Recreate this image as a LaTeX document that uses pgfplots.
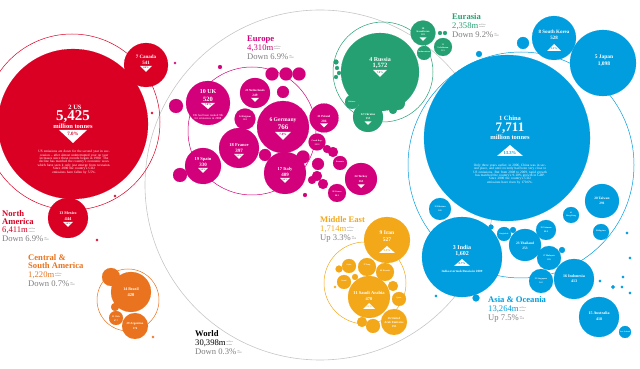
\documentclass[border=0pt]{standalone}
\usepackage{pgfplots}
\pgfplotsset{compat=1.18}
\usepackage{pgfplotstable}
\usepackage{fontspec}
\setmainfont{Liberation Serif}
\definecolor{cRed}{RGB}{218,0,36}
\definecolor{cMag}{RGB}{210,0,122}
\definecolor{cGrn}{RGB}{36,160,114}
\definecolor{cBlu}{RGB}{0,157,223}
\definecolor{cYel}{RGB}{243,168,26}
\definecolor{cOra}{RGB}{233,115,30}
\definecolor{cGry}{RGB}{125,125,125}
\newcommand\fs[1]{\fontsize{#1}{#1}\selectfont}
% down triangle: x, y(top), w, h, text, colour, fontsize
\newcommand\tdn[7]{%
  \fill[white] (axis cs:#1,#2) +(-0.5*#3pt,0pt) -- +(0.5*#3pt,0pt) -- +(0pt,-#4pt) -- cycle;
  \node[inner sep=0pt, text=#6, font=\bfseries\fs{#7}] at ([yshift=-0.3*#4pt]axis cs:#1,#2) {#5};}
% up triangle: x, y(base), w, h, text, colour, fontsize
\newcommand\tup[7]{%
  \fill[white] (axis cs:#1,#2) +(-0.5*#3pt,0pt) -- +(0.5*#3pt,0pt) -- +(0pt,#4pt) -- cycle;
  \node[inner sep=0pt, text=#6, font=\bfseries\fs{#7}] at ([yshift=0.3*#4pt]axis cs:#1,#2) {#5};}
\newcommand\cl[4]{\node[inner sep=0pt, text=white, font=\bfseries\fs{#3}, align=center] at (axis cs:#1,#2) {#4};}
% region label: x, ybase of last name line, colour, name lines, ybase value, value, change
\newcommand\reg[7]{%
  \node[anchor=base west, inner sep=0pt, text=#3, font=\bfseries\fs{8.6}, align=left] at (axis cs:#1,#2) {#4};
  \node[anchor=base west, inner sep=0pt, text=#3, font=\fs{8.6}] (v) at (axis cs:#1,#5) {#6};
  \node[anchor=base west, inner sep=0pt, text=cGry, font=\fs{8.6}] (p) at (axis cs:#1,{#5+8.6}) {#7};
  \node[anchor=south west, inner sep=0.6pt, text=cGry, font=\fs{2.2}, align=left] at (v.base east) {million\\tonnes};
  \node[anchor=south west, inner sep=0.6pt, text=cGry, font=\fs{2.2}, align=left] at (p.base east) {on\\2008};}
\pgfplotsset{bub/.style={scatter, only marks, mark=*, line width=0.1pt,
  scatter/use mapped color={draw=#1, fill=#1},
  visualization depends on={\thisrow{r}\as\rad},
  scatter/@pre marker code/.append style={/tikz/mark size=\rad}}}

\pgfplotstableread{
x y r
73 124 75
146 65 22
68 218 20
152 113 1.2
115 196 1.2
97 240 1.2
}\na
\pgfplotstableread{
x y r
283 127 26
208 103 22
285 173 21
239 148 20
203 166 18
324 118 14.5
255 93 15
361 179 16
245 119 10.5
317 142 8.5
337 193 9
340 163 7
303 157 6.5
318 164 6
317 176 5
323 184 5
312 180 4
327 149 4
333 152 5
272 74 6.5
286 74 6.5
299 74 6.5
283 92 6
176 106 7
180 175 7
265 155 6
175 63 1.2
220 67 2
305 195 2
205 183 1.2
}\eu
\pgfplotstableread{
x y r
380 72 39
368 117 15
423 33 12.5
443 47 9
424 53 7
352 102 7
398 103 7
393 110 4
440 33 2
445 33 2
336 62 2.5
337 68 2
339 73 2
336 77 2
}\ea
\pgfplotstableread{
x y r
507 138 83
603 63 33
554 38 22
462 257 40
440 209 11
602 201 17
525 245 16
574 279 20
599 317 20
549 258 12
541 281 12
546 230 10
571 215 8
601 232 8
504 234 7
523 43 6
625 332 6
479 54 3
476 298 3.5
562 250 3
513 230 3
491 227 2.5
436 296 1.3
627 233 1.3
630 258 1.3
623 277 1.3
622 287 1.3
613 287 1.8
630 293 1.3
600 281 1.3
}\as
\pgfplotstableread{
x y r
387 240 23
369 297 21
394 322 13
367 267 9
385 272 9
349 266 7
344 282 7
399 299 7
393 286 5
373 326 7
362 322 5
339 269 3.5
355 277 3
335 287 1.2
}\me
\pgfplotstableread{
x y r
131 292 20
111 277 9
135 326 13
116 318 7
115 307 4
153 337 1.2
}\sa

\begin{document}
\begin{tikzpicture}
\begin{axis}[width=640pt, height=369pt, scale only axis, axis lines=none,
  xmin=0, xmax=640, ymin=0, ymax=369, y dir=reverse, clip=true, set layers=standard]
% outlines
\addplot[only marks, mark=o, mark size=175pt, gray!45, line width=0.6pt] coordinates {(320,185)};
\addplot[only marks, mark=o, mark size=88pt, cRed, line width=0.5pt] coordinates {(72,122)};
\addplot[only marks, mark=o, mark size=64pt, cMag, line width=0.5pt] coordinates {(252,131)};
\addplot[only marks, mark=o, mark size=50pt, cGrn, line width=0.5pt] coordinates {(383,72)};
\addplot[only marks, mark=o, mark size=113pt, cBlu, line width=0.5pt] coordinates {(521,165)};
\addplot[only marks, mark=o, mark size=41pt, cYel, line width=0.5pt] coordinates {(365,283)};
\addplot[only marks, mark=o, mark size=31pt, cOra, line width=0.5pt] coordinates {(128,300)};
% bubbles
\addplot[bub=cRed] table {\na};
\addplot[bub=cMag] table {\eu};
\addplot[bub=cGrn] table {\ea};
\addplot[bub=cBlu] table {\as};
\addplot[bub=cYel] table {\me};
\addplot[bub=cOra] table {\sa};

\begin{pgfonlayer}{axis foreground}
% ---- North America labels
\cl{75}{107}{6.5}{2 US}
\cl{73}{117}{15}{5,425}
\cl{73}{126}{6.5}{million tonnes}
\tdn{73}{130}{28}{13}{7.0\%}{cRed}{5}
\node[inner sep=0pt, text=white, font=\fs{3.4}, align=center, text width=84pt] at (axis cs:74,162) {US emissions are down for the second year in succession -- after almost uninterrupted year on year increases since these records began in 1980. The decline has matched the country's economic woes which have seen it only just emerge from recession.\\Since 2000 the country's CO2 emissions have fallen by 5.5\%.};
\cl{146}{57}{5}{7 Canada}
\cl{146}{63}{5}{541}
\tdn{146}{66}{12}{6}{8.8\%}{cRed}{2.4}
\cl{68}{213}{4}{13 Mexico}
\cl{68}{219}{4.5}{444}
\tdn{68}{222}{10}{5}{2.9\%}{cRed}{2.2}
% ---- Central & South America
\cl{131}{289}{4}{14 Brazil}
\cl{131}{295}{4.5}{420}
\cl{135}{324}{3}{29 Argentina}
\cl{135}{329}{3}{174}
\cl{116}{317}{2.2}{33 Chile}
\cl{116}{320.5}{2.2}{67.7}
% ---- Europe
\cl{283}{120}{5.6}{6 Germany}
\cl{283}{127.5}{7}{766}
\tdn{283}{132}{16}{8}{7.0\%}{cMag}{3.2}
\cl{208}{92}{6}{10 UK}
\cl{208}{99}{6.5}{520}
\tdn{208}{103}{14}{6}{7.8\%}{cMag}{2.8}
\node[inner sep=0pt, text=white, font=\fs{3}, align=center, text width=36pt] at (axis cs:208,117) {UK had been ranked 9th for emissions in 2008};
\cl{239}{145}{4.5}{18 France}
\cl{239}{151}{5}{397}
\tdn{239}{154}{10}{5}{5.3\%}{cMag}{2.2}
\cl{203}{159}{4.5}{19 Spain}
\cl{203}{165}{5}{330}
\tdn{203}{168}{10}{5}{9.9\%}{cMag}{2.2}
\cl{285}{169}{4.5}{17 Italy}
\cl{285}{175}{5}{409}
\tdn{285}{178}{10}{5}{9.6\%}{cMag}{2.2}
\cl{324}{116}{3}{21 Poland}
\cl{324}{121}{3.4}{286}
\tdn{324}{123.5}{8}{4}{}{cMag}{2}
\cl{255}{90}{3}{25 Netherlands}
\cl{255}{95.5}{3.4}{249}
\tdn{255}{98}{8}{4}{}{cMag}{2}
\cl{361}{177}{3}{24 Turkey}
\cl{361}{182}{3}{263}
\tdn{361}{184.5}{7}{3.5}{}{cMag}{2}
\cl{245}{116.5}{2.4}{34 Belgium}
\cl{245}{120}{2.4}{112}
\cl{317}{141}{2.2}{Czech Rep.}
\cl{317}{144.5}{2.2}{112.3}
\cl{337}{192}{2.2}{38 Greece}
\cl{337}{195.5}{2.2}{98.3}
\cl{340}{162}{2}{Romania}
% ---- Eurasia
\cl{380}{59}{6}{4 Russia}
\cl{380}{66}{6.5}{1,572}
\tdn{380}{70}{14}{7}{7.8\%}{cGrn}{2.8}
\cl{368}{114}{3}{22 Ukraine}
\cl{368}{119}{3}{255}
\tdn{368}{121.5}{7}{3.5}{}{cGrn}{2}
\cl{423}{28.5}{2.5}{28}
\cl{423}{31.5}{2.5}{Kazakhstan}
\cl{423}{35}{2.5}{181}
\tdn{423}{37.5}{7}{3.5}{}{cGrn}{2}
\cl{443}{45}{2.2}{31}
\cl{443}{48}{2.2}{Uzbekistan}
\cl{443}{51}{2.2}{121}
\cl{424}{52}{2}{Turkmenistan}
\cl{352}{102}{2}{Belarus}
% ---- Asia
\cl{510}{118}{6.5}{1 China}
\cl{510}{128}{13}{7,711}
\cl{510}{137}{6.5}{million tonnes}
\tup{510}{156}{26}{11}{13.3\%}{cBlu}{4.6}
\node[inner sep=0pt, text=white, font=\fs{3.4}, align=center, text width=86pt] at (axis cs:510,174) {Only three years earlier, in 2006, China was in second place, and until recently had been very close to US emissions. But from 2008 to 2009, rapid growth has matched the country's 9-10\% growth in GDP.\\Since 2000 the country's CO2 emissions have risen by 170.6\%.};
\cl{604}{57}{5.5}{5 Japan}
\cl{604}{64}{5.5}{1,098}
\cl{554}{32}{5}{8 South Korea}
\cl{554}{38}{5}{528}
\tup{554}{51}{14}{7}{3.2\%}{cBlu}{2.8}
\cl{462}{247}{6}{3 India}
\cl{462}{254}{6}{1,602}
\tup{462}{266}{16}{7}{8.7\%}{cBlu}{3}
\cl{462}{271}{3.2}{India overtook Russia in 2009}
\cl{602}{198}{3.5}{20 Taiwan}
\cl{602}{203}{3.5}{291}
\cl{525}{243}{3.5}{23 Thailand}
\cl{525}{248}{3.5}{253}
\cl{574}{276}{4}{16 Indonesia}
\cl{574}{281}{4}{413}
\cl{599}{313}{4}{15 Australia}
\cl{599}{319}{4}{418}
\cl{549}{256}{2.2}{27 Malaysia}
\cl{549}{259.5}{2.2}{199}
\cl{541}{279}{2.2}{35 Singapore}
\cl{541}{282.5}{2.2}{142}
\cl{546}{228}{2.2}{39 Vietnam}
\cl{546}{231.5}{2.2}{99.8}
\cl{440}{207}{2.2}{32 Pakistan}
\cl{440}{210.5}{2.2}{146}
\cl{571}{213}{2}{41}
\cl{571}{216}{2}{Hong Kong}
\cl{601}{231}{2}{Philippines}
\cl{625}{332}{1.8}{New Zealand}
\cl{504}{234}{1.8}{Bangladesh}
% ---- Middle East
\cl{387}{233}{5.5}{9 Iran}
\cl{387}{240}{5.5}{527}
\tup{387}{253}{16}{7}{3.2\%}{cYel}{3}
\cl{369}{293}{4.5}{11 Saudi Arabia}
\cl{369}{299}{4.5}{470}
\tup{369}{309}{12}{6}{3.2\%}{cYel}{2.4}
\cl{394}{318}{3}{26 United}
\cl{394}{322}{3}{Arab Emirates}
\cl{394}{326.5}{3}{193}
\cl{367}{265}{2.2}{37 Iraq}
\cl{385}{271}{2.2}{40 Kuwait}
\cl{349}{265}{2}{Syria}
\cl{344}{281}{2}{Israel}
\cl{399}{298}{2}{Qatar}
% ---- region labels
\reg{2}{225}{cRed}{North\\America}{233}{6,411m}{Down 6.9\%}
\reg{28}{269}{cOra}{Central \&\\South America}{277.5}{1,220m}{Down 0.7\%}
\reg{247}{42}{cMag}{Europe}{50.5}{4,310m}{Down 6.9\%}
\reg{452}{20}{cGrn}{Eurasia}{28.5}{2,358m}{Down 9.2\%}
\reg{320}{223}{cYel}{Middle East}{232}{1,714m}{Up 3.3\%}
\reg{488}{303}{cBlu}{Asia \& Oceania}{312}{13,264m}{Up 7.5\%}
\reg{195}{337}{black}{World}{346}{30,398m}{Down 0.3\%}
\end{pgfonlayer}
\end{axis}
\pgfresetboundingbox
\path (current axis.south west) rectangle (current axis.north east);
\end{tikzpicture}
\end{document}
